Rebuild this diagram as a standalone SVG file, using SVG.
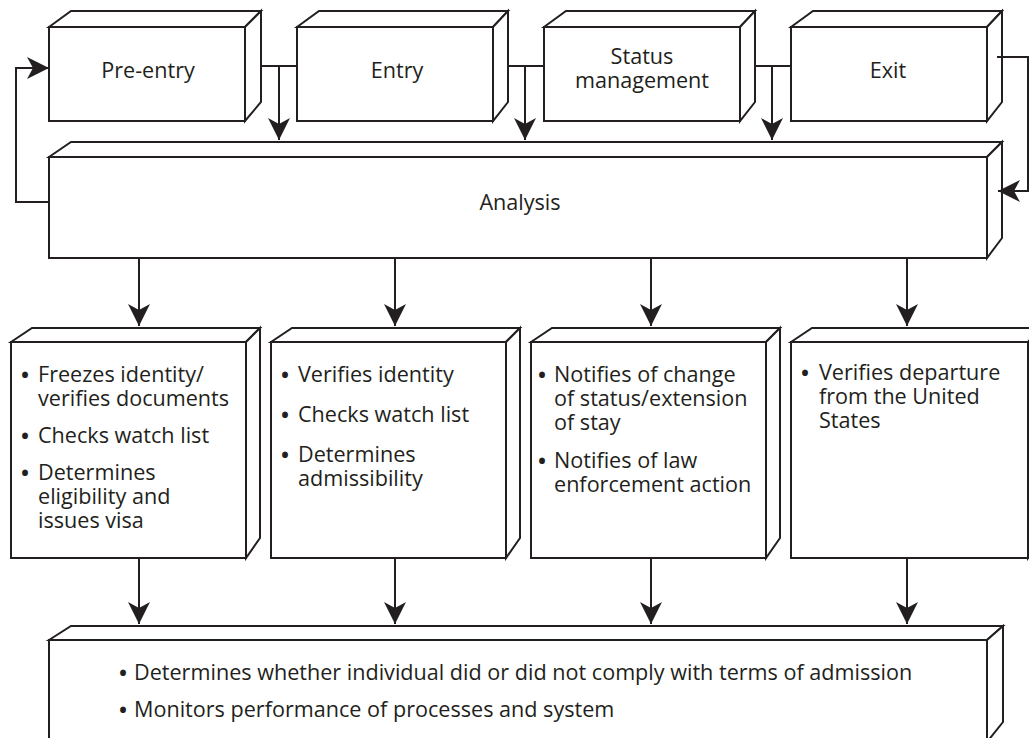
<svg xmlns="http://www.w3.org/2000/svg" width="1029" height="738" viewBox="0 0 1029 738">
<defs>
<style>
.f{fill:#fff;stroke:#231f20;stroke-width:2;stroke-linejoin:miter}
.c{fill:none;stroke:#231f20;stroke-width:2}
.t{font-family:"Open Sans","Noto Sans",sans-serif;font-size:21.6px;fill:#231f20}
.m{text-anchor:middle}
.b{font-size:28px;text-anchor:middle}
</style>
<marker id="ah" viewBox="0 0 22 22" refX="22" refY="11" markerWidth="22" markerHeight="22" markerUnits="userSpaceOnUse" orient="auto">
<path d="M22,11 L0,0 L6,11 L0,22 Z" fill="#231f20"/>
</marker>
</defs>
<rect width="1029" height="738" fill="#fff"/>

<g id="pre-entry">
<polygon class="f" points="49,27 71,11 261,11 245,27"/>
<polygon class="f" points="245,27 261,11 261,102 245,121"/>
<rect class="f" x="49" y="27" width="196" height="94"/>
<text class="t m" x="148" y="78">Pre-entry</text>
</g>
<g id="entry">
<polygon class="f" points="297,27 319,11 508,11 493,27"/>
<polygon class="f" points="493,27 508,11 508,102 493,121"/>
<rect class="f" x="297" y="27" width="196" height="94"/>
<text class="t m" x="397" y="78">Entry</text>
</g>
<g id="status">
<polygon class="f" points="544,27 566,11 755,11 740,27"/>
<polygon class="f" points="740,27 755,11 755,102 740,121"/>
<rect class="f" x="544" y="27" width="196" height="94"/>
<text class="t m" x="642" y="64">Status<tspan x="642" dy="24">management</tspan></text>
</g>
<g id="exit">
<polygon class="f" points="791,27 813,11 1002,11 987,27"/>
<polygon class="f" points="987,27 1002,11 1002,102 987,121"/>
<rect class="f" x="791" y="27" width="196" height="94"/>
<text class="t m" x="888" y="78">Exit</text>
</g>

<g id="analysis">
<polygon class="f" points="49,157 71,142 1002,142 987,157"/>
<polygon class="f" points="987,157 1002,142 1002,238 987,258"/>
<rect class="f" x="49" y="157" width="938" height="101"/>
<text class="t m" x="520" y="210">Analysis</text>
</g>

<g id="box-preentry">
<polygon class="f" points="11,342 32,328 260,328 246,342"/>
<polygon class="f" points="246,342 260,328 260,538 246,558"/>
<rect class="f" x="11" y="342" width="235" height="216"/>
<text class="t" y="382"><tspan class="b" x="25" dy="3">•</tspan><tspan x="38" dy="-3">Freezes identity/</tspan><tspan x="38" dy="24">verifies documents</tspan><tspan class="b" x="25" dy="40">•</tspan><tspan x="38" dy="-3">Checks watch list</tspan><tspan class="b" x="25" dy="40">•</tspan><tspan x="38" dy="-3">Determines</tspan><tspan x="38" dy="24">eligibility and</tspan><tspan x="38" dy="24">issues visa</tspan></text>
</g>
<g id="box-entry">
<polygon class="f" points="271,342 292,328 520,328 506,342"/>
<polygon class="f" points="506,342 520,328 520,538 506,558"/>
<rect class="f" x="271" y="342" width="235" height="216"/>
<text class="t" y="382"><tspan class="b" x="285" dy="3">•</tspan><tspan x="298" dy="-3">Verifies identity</tspan><tspan class="b" x="285" dy="43">•</tspan><tspan x="298" dy="-3">Checks watch list</tspan><tspan class="b" x="285" dy="43">•</tspan><tspan x="298" dy="-3">Determines</tspan><tspan x="298" dy="24">admissibility</tspan></text>
</g>
<g id="box-status">
<polygon class="f" points="531,342 552,328 780,328 766,342"/>
<polygon class="f" points="766,342 780,328 780,538 766,558"/>
<rect class="f" x="531" y="342" width="235" height="216"/>
<text class="t" y="382"><tspan class="b" x="542" dy="3">•</tspan><tspan x="554" dy="-3">Notifies of change</tspan><tspan x="554" dy="24">of status/extension</tspan><tspan x="554" dy="24">of stay</tspan><tspan class="b" x="542" dy="41">•</tspan><tspan x="554" dy="-3">Notifies of law</tspan><tspan x="554" dy="24">enforcement action</tspan></text>
</g>
<g id="box-exit">
<polygon class="f" points="791,342 812,328 1042,328 1028,342"/>
<polygon class="f" points="1028,342 1042,328 1042,538 1028,558"/>
<rect class="f" x="791" y="342" width="237" height="216"/>
<text class="t" y="380"><tspan class="b" x="805" dy="3">•</tspan><tspan x="819" dy="-3">Verifies departure</tspan><tspan x="819" dy="24">from the United</tspan><tspan x="819" dy="24">States</tspan></text>
</g>

<g id="compliance">
<polygon class="f" points="49,640 71,626 1003,626 987,640"/>
<polygon class="f" points="987,640 1003,626 1003,722 987,742"/>
<rect class="f" x="49" y="640" width="938" height="102"/>
<text class="t" y="680"><tspan class="b" x="123" dy="3">•</tspan><tspan x="134" dy="-3">Determines whether individual did or did not comply with terms of admission</tspan><tspan class="b" x="123" dy="40">•</tspan><tspan x="134" dy="-3">Monitors performance of processes and system</tspan></text>
</g>

<g id="connectors">
<path class="c" d="M49,202 H16 V68 H49" marker-end="url(#ah)"/>
<path class="c" d="M261,66 H297"/>
<path class="c" d="M279,66 V140" marker-end="url(#ah)"/>
<path class="c" d="M508,66 H544"/>
<path class="c" d="M525,66 V140" marker-end="url(#ah)"/>
<path class="c" d="M755,66 H791"/>
<path class="c" d="M772,66 V140" marker-end="url(#ah)"/>
<path class="c" d="M997,57 H1028 V191 H998" marker-end="url(#ah)"/>
<path class="c" d="M139,258 V326" marker-end="url(#ah)"/>
<path class="c" d="M395,258 V326" marker-end="url(#ah)"/>
<path class="c" d="M651,258 V326" marker-end="url(#ah)"/>
<path class="c" d="M907,258 V326" marker-end="url(#ah)"/>
<path class="c" d="M139,558 V624" marker-end="url(#ah)"/>
<path class="c" d="M395,558 V624" marker-end="url(#ah)"/>
<path class="c" d="M651,558 V624" marker-end="url(#ah)"/>
<path class="c" d="M907,558 V624" marker-end="url(#ah)"/>
</g>
</svg>
